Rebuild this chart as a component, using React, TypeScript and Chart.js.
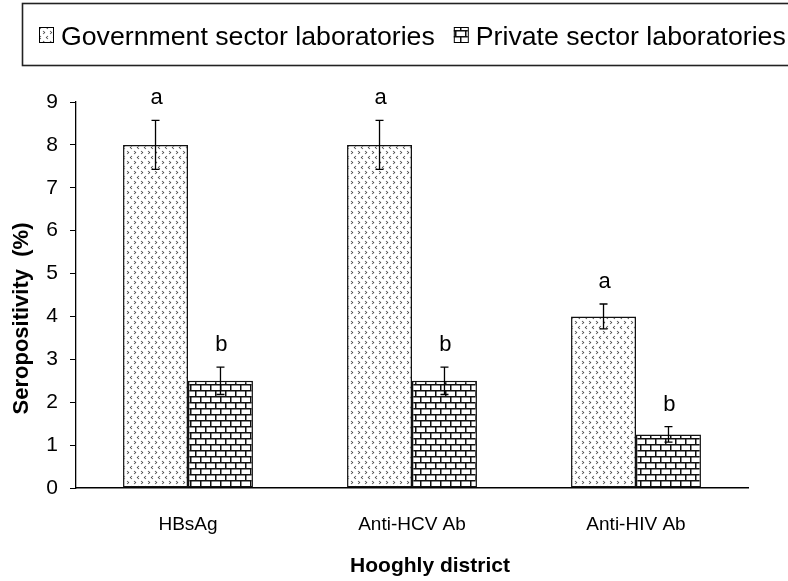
import React, { useEffect, useRef } from "react";
import { Chart, registerables } from "chart.js";

Chart.register(...registerables);

// ---- data ----
const categories = ["HBsAg", "Anti-HCV Ab", "Anti-HIV Ab"];
const seriesNames = ["Government sector laboratories", "Private sector laboratories"];
const govValues = [8, 8, 4];
const privValues = [2.5, 2.5, 1.25];
const govErrors = [0.57, 0.57, 0.29];
const privErrors = [0.32, 0.32, 0.18];
const govLetters = ["a", "a", "a"];
const privLetters = ["b", "b", "b"];
const yMin = 0;
const yMax = 9;
const yStep = 1;
const xTitle = "Hooghly district";
const yTitle = "Seropositivity  (%)";

const errorSets = [govErrors, privErrors];
const letterSets = [govLetters, privLetters];

const FONT = '"Liberation Sans", Arial, Helvetica, sans-serif';

function makeChevronPattern(ctx: CanvasRenderingContext2D): CanvasPattern | string {
  const c = document.createElement("canvas");
  c.width = 14;
  c.height = 20;
  const p = c.getContext("2d")!;
  p.fillStyle = "#fff";
  p.fillRect(0, 0, 14, 20);
  p.strokeStyle = "#3a3a3a";
  p.lineWidth = 1.5;
  p.beginPath();
  p.moveTo(2, 2);
  p.lineTo(5.5, 5);
  p.lineTo(2, 8);
  p.moveTo(12, 12);
  p.lineTo(8.5, 15);
  p.lineTo(12, 18);
  p.stroke();
  const pat = ctx.createPattern(c, "repeat");
  if (!pat) return "#fff";
  pat.setTransform(new DOMMatrix([0.5, 0, 0, 0.5, 0, 0]));
  return pat;
}

function makeBrickPattern(ctx: CanvasRenderingContext2D): CanvasPattern | string {
  const c = document.createElement("canvas");
  c.width = 20;
  c.height = 24;
  const p = c.getContext("2d")!;
  p.fillStyle = "#fff";
  p.fillRect(0, 0, 20, 24);
  p.fillStyle = "#111";
  p.fillRect(0, 0, 20, 3);
  p.fillRect(0, 12, 20, 3);
  p.fillRect(0, 0, 3, 12);
  p.fillRect(10, 12, 3, 12);
  const pat = ctx.createPattern(c, "repeat");
  if (!pat) return "#fff";
  pat.setTransform(new DOMMatrix([0.5, 0, 0, 0.5, 0, 0]));
  return pat;
}

const overlayPlugin = {
  id: "overlay",
  afterDatasetsDraw(chart: any) {
    const ctx: CanvasRenderingContext2D = chart.ctx;
    const yScale = chart.scales.y;
    ctx.save();
    chart.data.datasets.forEach((ds: any, di: number) => {
      const meta = chart.getDatasetMeta(di);
      meta.data.forEach((bar: any, i: number) => {
        const v = ds.data[i] as number;
        const e = errorSets[di][i];
        const x = bar.x;
        const yTop = yScale.getPixelForValue(v + e);
        const yBot = yScale.getPixelForValue(v - e);
        ctx.strokeStyle = "#000";
        ctx.lineWidth = 1.3;
        ctx.beginPath();
        ctx.moveTo(x, yTop);
        ctx.lineTo(x, yBot);
        ctx.moveTo(x - 4, yTop);
        ctx.lineTo(x + 4, yTop);
        ctx.moveTo(x - 4, yBot);
        ctx.lineTo(x + 4, yBot);
        ctx.stroke();
        ctx.fillStyle = "#000";
        ctx.font = `22px ${FONT}`;
        ctx.textAlign = "center";
        ctx.textBaseline = "alphabetic";
        ctx.fillText(letterSets[di][i], x + 1, yTop - 16);
      });
    });
    ctx.restore();
  },
  afterDraw(chart: any) {
    const ctx: CanvasRenderingContext2D = chart.ctx;
    ctx.save();
    // legend box
    ctx.strokeStyle = "#222";
    ctx.lineWidth = 1.6;
    ctx.strokeRect(22.5, 3.5, 800, 62);
    ctx.font = `26.7px ${FONT}`;
    ctx.textAlign = "left";
    ctx.textBaseline = "alphabetic";
    let x = 39;
    chart.data.datasets.forEach((ds: any) => {
      ctx.fillStyle = ds.backgroundColor;
      ctx.fillRect(x, 27, 14, 15);
      ctx.strokeStyle = "#000";
      ctx.lineWidth = 1;
      ctx.strokeRect(x + 0.5, 27.5, 14, 15);
      ctx.fillStyle = "#000";
      ctx.fillText(ds.label, x + 22, 44.5);
      x = x + 22 + ctx.measureText(ds.label).width + 19;
    });
    // y title
    ctx.save();
    ctx.translate(22, 318.5);
    ctx.rotate(-Math.PI / 2);
    ctx.font = `bold 22px ${FONT}`;
    ctx.textAlign = "center";
    ctx.textBaseline = "middle";
    ctx.fillStyle = "#000";
    ctx.fillText(yTitle, 0, 0);
    ctx.restore();
    // x title
    ctx.font = `bold 21px ${FONT}`;
    ctx.textAlign = "center";
    ctx.textBaseline = "alphabetic";
    ctx.fillStyle = "#000";
    ctx.fillText(xTitle, 430, 572);
    ctx.restore();
  },
};

export default function App() {
  const ref = useRef<HTMLCanvasElement | null>(null);
  useEffect(() => {
    const canvas = ref.current;
    if (!canvas) return;
    const ctx = canvas.getContext("2d")!;
    Chart.defaults.font.family = FONT;
    const govPat = makeChevronPattern(ctx);
    const privPat = makeBrickPattern(ctx);
    const chart = new Chart(canvas, {
      type: "bar",
      data: {
        labels: categories,
        datasets: [
          {
            label: seriesNames[0],
            data: govValues,
            backgroundColor: govPat as any,
            borderColor: "#111",
            borderWidth: 1.5,
            borderSkipped: false,
            barPercentage: 1,
            categoryPercentage: 0.58,
          },
          {
            label: seriesNames[1],
            data: privValues,
            backgroundColor: privPat as any,
            borderColor: "#111",
            borderWidth: 1.5,
            borderSkipped: false,
            barPercentage: 1,
            categoryPercentage: 0.58,
          },
        ],
      },
      options: {
        responsive: false,
        animation: false,
        devicePixelRatio: 1,
        layout: { padding: { top: 102, right: 40, bottom: 0, left: 0 } },
        plugins: {
          legend: { display: false },
          tooltip: { enabled: false },
          title: { display: false },
        },
        scales: {
          x: {
            type: "category",
            grid: { display: false, drawTicks: false },
            border: { display: true, color: "#000", width: 1.5 },
            ticks: {
              color: "#000",
              font: { size: 19 },
              padding: 25,
              maxRotation: 0,
              autoSkip: false,
            },
            afterFit: (scale: any) => {
              scale.height = 93;
            },
          },
          y: {
            min: yMin,
            max: yMax,
            grid: {
              display: true,
              drawOnChartArea: false,
              drawTicks: true,
              tickLength: 6,
              color: "#000",
              lineWidth: 1,
            },
            border: { display: true, color: "#000", width: 1.3 },
            ticks: {
              stepSize: yStep,
              color: "#000",
              font: { size: 21 },
              padding: 12,
            },
            afterFit: (scale: any) => {
              scale.width = 76;
            },
          },
        },
      },
      plugins: [overlayPlugin],
    });
    return () => chart.destroy();
  }, []);
  return (
    <div style={{ position: "fixed", left: 0, top: 0, width: 788, height: 581, background: "#fff" }}>
      <canvas ref={ref} width={788} height={581} style={{ width: 788, height: 581, display: "block" }} />
    </div>
  );
}
